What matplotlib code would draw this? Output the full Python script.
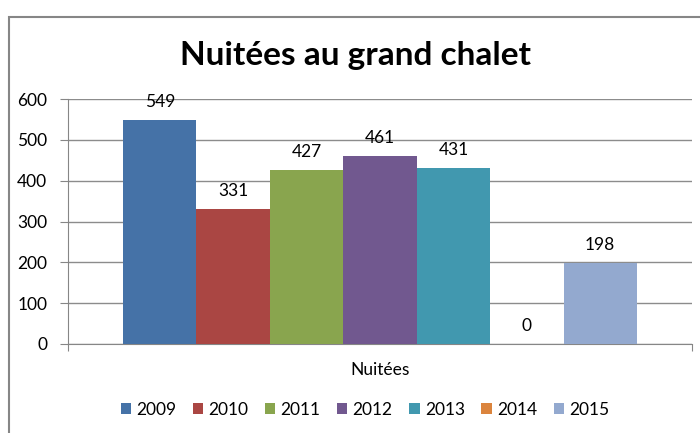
import numpy as np
import matplotlib
matplotlib.use("Agg")
import matplotlib.pyplot as plt
from matplotlib.patches import Rectangle

# data
years = ["2009", "2010", "2011", "2012", "2013", "2014", "2015"]
nuitees = [549, 331, 427, 461, 431, 0, 198]
colors = ["#4572A7", "#AA4643", "#89A54E", "#71588F", "#4198AF", "#DB843D", "#93A9CF"]
category = "Nuitées"

plt.rcParams['font.family'] = ['Lato', 'DejaVu Sans']

fig = plt.figure(figsize=(7, 4.33), dpi=100)
ax = fig.add_axes([68 / 700, 1 - 344 / 433, 624 / 700, 245 / 433])

# chart frame (runs off the right and bottom edges like the screenshot)
fig.patches.append(Rectangle((9 / 700, -0.1), 1.2, 1 - 17 / 433 + 0.1,
                             transform=fig.transFigure, fill=False,
                             edgecolor="#868686", linewidth=1.5))

# excel style gap width 150%
n = len(years)
w = 1 / (n + 1.5)
xs = 0.75 * w + w * np.arange(n) + w / 2

for i in range(n):
    ax.bar(xs[i], nuitees[i], width=w, color=colors[i], label=years[i], zorder=3)
    ax.annotate(str(nuitees[i]), (xs[i], nuitees[i]), xytext=(0, 7),
                textcoords="offset points", ha="center", va="bottom", fontsize=12.5)

ax.set_xlim(0, 1)
ax.set_ylim(0, 600)
ax.set_yticks(range(0, 601, 100))
ax.yaxis.grid(True, color="#8c8c8c", linewidth=1, zorder=0)
ax.set_xticks([0, 1])
ax.set_xticklabels(["", ""])
ax.text(0.5, -0.075, category, transform=ax.transAxes, ha="center", va="top", fontsize=12.5)

for s in ["top", "right"]:
    ax.spines[s].set_visible(False)
for s in ["left", "bottom"]:
    ax.spines[s].set_color("#868686")
ax.tick_params(axis="y", length=6, color="#868686", labelsize=12.5, pad=9)
ax.tick_params(axis="x", length=5, color="#868686")

fig.text(356 / 700, 1 - 55 / 433, "Nuitées au grand chalet", ha="center", va="center",
         fontsize=24, fontweight="bold")

fig.legend(loc="center", bbox_to_anchor=(365 / 700, 1 - 410 / 433), ncol=n, frameon=False,
           fontsize=12.5, handlelength=0.6, handleheight=0.6, handletextpad=0.3,
           columnspacing=0.95)

fig.savefig("out.png", dpi=100)
